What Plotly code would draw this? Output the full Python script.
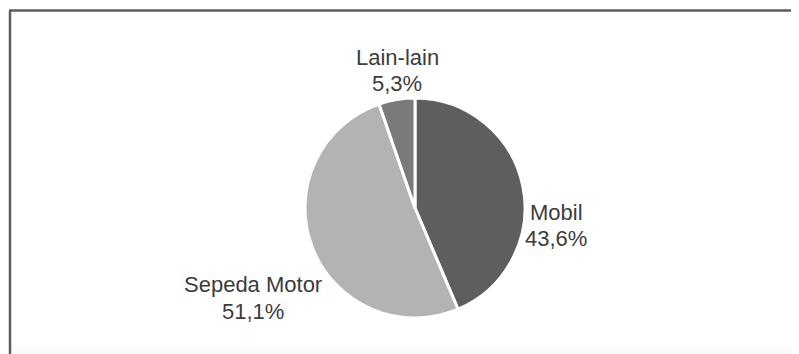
import plotly.graph_objects as go

labels = ["Mobil", "Sepeda Motor", "Lain-lain"]
values = [43.6, 51.1, 5.3]
colors = ["#5e5e5e", "#b3b3b3", "#7a7a7a"]

W, H = 799, 354
OFF = 8  # page body margin in the browser


def px(x):
    return (x - OFF) / W


def py(y):
    return 1 - (y - OFF) / H


cx, cy, r = 415, 208, 110

fig = go.Figure(go.Pie(
    labels=labels,
    values=values,
    textinfo="none",
    sort=False,
    direction="clockwise",
    rotation=0,
    marker=dict(colors=colors, line=dict(color="white", width=3)),
    showlegend=False,
    domain=dict(x=[px(cx - 200), px(cx + 200)], y=[py(cy + r), py(cy - r)]),
    hoverinfo="skip",
))

# label anchor points (screen px): name line centre, value line centre
label_pos = {
    "Lain-lain": (397, 57, 83),
    "Mobil": (556, 212, 238),
    "Sepeda Motor": (253, 284, 311),
}

font = dict(family="Liberation Sans, Arial, sans-serif", size=22, color="#3c3c3c")
annotations = []
for lab, val in zip(labels, values):
    x, y1, y2 = label_pos[lab]
    annotations.append(dict(text=lab, x=px(x), y=py(y1), xref="paper", yref="paper",
                            xanchor="center", yanchor="middle", showarrow=False, font=font))
    annotations.append(dict(text=f"{val:.1f}%".replace(".", ","), x=px(x), y=py(y2),
                            xref="paper", yref="paper", xanchor="center", yanchor="middle",
                            showarrow=False, font=font))

fig.update_layout(
    width=W, height=H, autosize=False,
    margin=dict(l=0, r=0, t=0, b=0, pad=0, autoexpand=False),
    paper_bgcolor="white",
    plot_bgcolor="white",
    annotations=annotations,
    shapes=[
        dict(type="rect", xref="paper", yref="paper", x0=px(11), x1=1.05, y0=-0.05, y1=py(346),
             line=dict(width=0), fillcolor="#fafafa", layer="below"),
        dict(type="line", xref="paper", yref="paper",
             x0=px(9), x1=1.05, y0=py(10.5), y1=py(10.5),
             line=dict(color="#5c5c5c", width=2.5)),
        dict(type="line", xref="paper", yref="paper",
             x0=px(10), x1=px(10), y0=-0.05, y1=py(10.5),
             line=dict(color="#5c5c5c", width=2.5)),
    ],
)

fig.write_html("out.html")
